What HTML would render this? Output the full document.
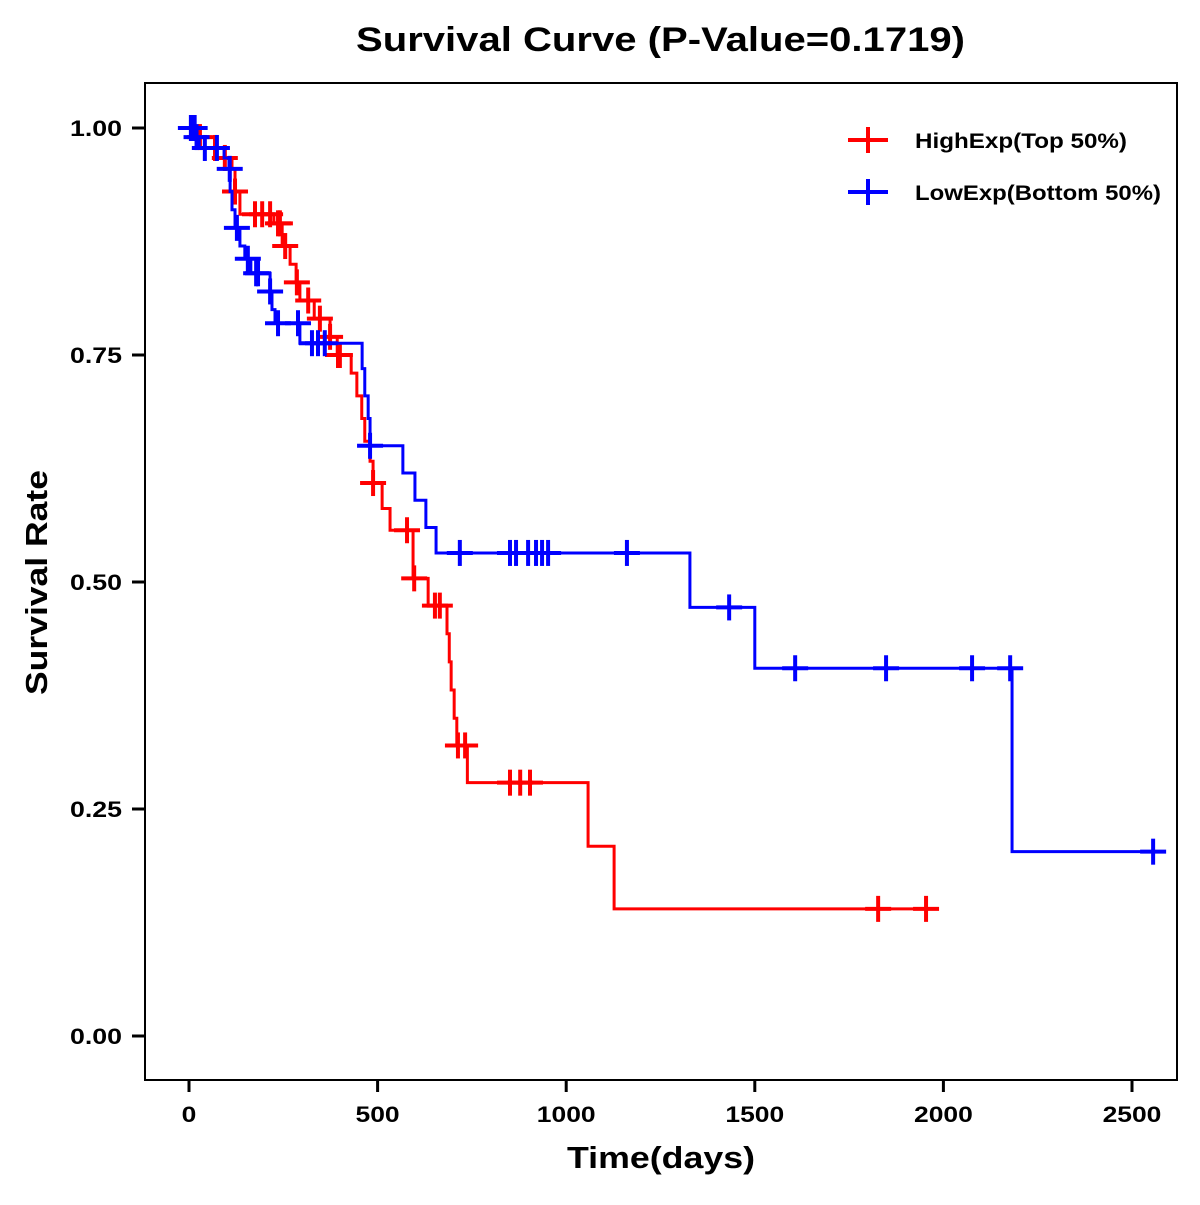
<!DOCTYPE html>
<html><head><meta charset="utf-8"><style>
html,body{margin:0;padding:0;background:#fff;}
svg text{font-family:"Liberation Sans",Arial,sans-serif;font-weight:bold;}
</style></head><body>
<svg id="chart" width="1200" height="1200" viewBox="0 0 1200 1200" xmlns="http://www.w3.org/2000/svg">
<rect x="0" y="0" width="1200" height="1200" fill="#fff"/>
<text x="356" y="51" font-size="34" textLength="609" lengthAdjust="spacingAndGlyphs">Survival Curve (P-Value=0.1719)</text>
<rect x="145" y="83" width="1032" height="997" fill="none" stroke="#000" stroke-width="2"/>
<g id="axes"></g>
<g id="series"></g>
<text x="567" y="1168" font-size="31" textLength="188" lengthAdjust="spacingAndGlyphs">Time(days)</text>
<text transform="translate(47,695) rotate(-90)" font-size="31" textLength="225" lengthAdjust="spacingAndGlyphs">Survival Rate</text>
<g>
<g>
<line x1="848" y1="140" x2="888" y2="140" stroke="#f00" stroke-width="4"/>
<line x1="868" y1="127" x2="868" y2="153" stroke="#f00" stroke-width="4"/>
<text x="915" y="148" font-size="21" textLength="212" lengthAdjust="spacingAndGlyphs">HighExp(Top 50%)</text>
</g>
<g>
<line x1="848" y1="192" x2="888" y2="192" stroke="#00f" stroke-width="4"/>
<line x1="868" y1="179" x2="868" y2="205" stroke="#00f" stroke-width="4"/>
<text x="915" y="200" font-size="21" textLength="246" lengthAdjust="spacingAndGlyphs">LowExp(Bottom 50%)</text>
</g>
</g>
</svg>
<script>
const xTicks=[0,500,1000,1500,2000,2500];
const yTicks=[0,0.25,0.5,0.75,1.0];
const yTickLabels=["0.00","0.25","0.50","0.75","1.00"];
const highTimes=[0,29,69,95,114,122,135,225,247,268,284,294,332,374,393,430,445,458,466,480,488,512,533,594,634,684,690,695,703,710,738,1058,1127];
const highSurv=[1,0.99,0.978,0.967,0.955,0.93,0.905,0.895,0.87,0.85,0.83,0.81,0.79,0.77,0.75,0.73,0.705,0.68,0.655,0.633,0.609,0.581,0.557,0.504,0.474,0.443,0.412,0.381,0.35,0.32,0.279,0.209,0.14];
const highEnd=1955;
const highCensor=[29,69,95,122,175,194,215,236,241,255,286,316,347,374,395,400,488,578,597,652,665,713,732,851,878,904,1827,1954];
const lowTimes=[0,16,27,93,106,109,114,122,135,148,164,215,220,228,294,459,466,475,480,567,599,628,655,1328,1500,2182];
const lowSurv=[1,0.99,0.978,0.967,0.955,0.93,0.91,0.89,0.87,0.856,0.84,0.82,0.8,0.785,0.763,0.735,0.705,0.68,0.65,0.62,0.59,0.56,0.532,0.472,0.405,0.203];
const lowEnd=2556;
const lowCensor=[5,10,15,20,42,74,108,127,156,178,183,215,236,289,326,342,360,480,718,851,867,899,920,936,952,1161,1432,1607,1848,2076,2177,2556];

const NS='http://www.w3.org/2000/svg';
const X=d=>189+d*(1132-189)/2500;
const Y=s=>1036-s*(1036-128);
function mk(tag,attrs,parent){const e=document.createElementNS(NS,tag);for(const k in attrs)e.setAttribute(k,attrs[k]);parent.appendChild(e);return e;}
const axes=document.getElementById('axes');
xTicks.forEach(t=>{
  const l=mk('line',{x1:X(t),x2:X(t),y1:1080,y2:1092,stroke:'#000','stroke-width':3},axes);
  
  
  const s=String(t);
  const tx=mk('text',{x:X(t),y:1122,'font-size':22,'text-anchor':'middle',textLength:s.length*14.7,lengthAdjust:'spacingAndGlyphs'},axes);
  tx.textContent=s;
  
  
});
yTicks.forEach((t,i)=>{
  const l=mk('line',{x1:132,x2:145,y1:Y(t),y2:Y(t),stroke:'#000','stroke-width':3},axes);
  
  
  const tx=mk('text',{x:122,y:Y(t)+8,'font-size':22,'text-anchor':'end',textLength:52,lengthAdjust:'spacingAndGlyphs'},axes);
  tx.textContent=yTickLabels[i];
  
  
});
const series=document.getElementById('series');
function survAt(times,surv,t){let s=surv[0];for(let i=0;i<times.length;i++){if(times[i]<=t)s=surv[i];}return s;}
function draw(times,surv,end,cens,color,name){
  let d='M'+X(times[0])+','+Y(surv[0]);
  for(let i=1;i<times.length;i++){d+=' H'+X(times[i])+' V'+Y(surv[i]);}
  d+=' H'+X(end);
  const p=mk('path',{d:d,fill:'none',stroke:color,'stroke-width':3},series);
  
  
  cens.forEach(c=>{
    const x=X(c),y=Y(survAt(times,surv,c));
    const g=mk('g',{},series);
    
    
    mk('line',{x1:x-13,x2:x+13,y1:y,y2:y,stroke:color,'stroke-width':4},g);
    mk('line',{x1:x,x2:x,y1:y-13,y2:y+13,stroke:color,'stroke-width':4},g);
  });
}
draw(highTimes,highSurv,highEnd,highCensor,'#f00','high-exp');
draw(lowTimes,lowSurv,lowEnd,lowCensor,'#00f','low-exp');
</script>
</body></html>
